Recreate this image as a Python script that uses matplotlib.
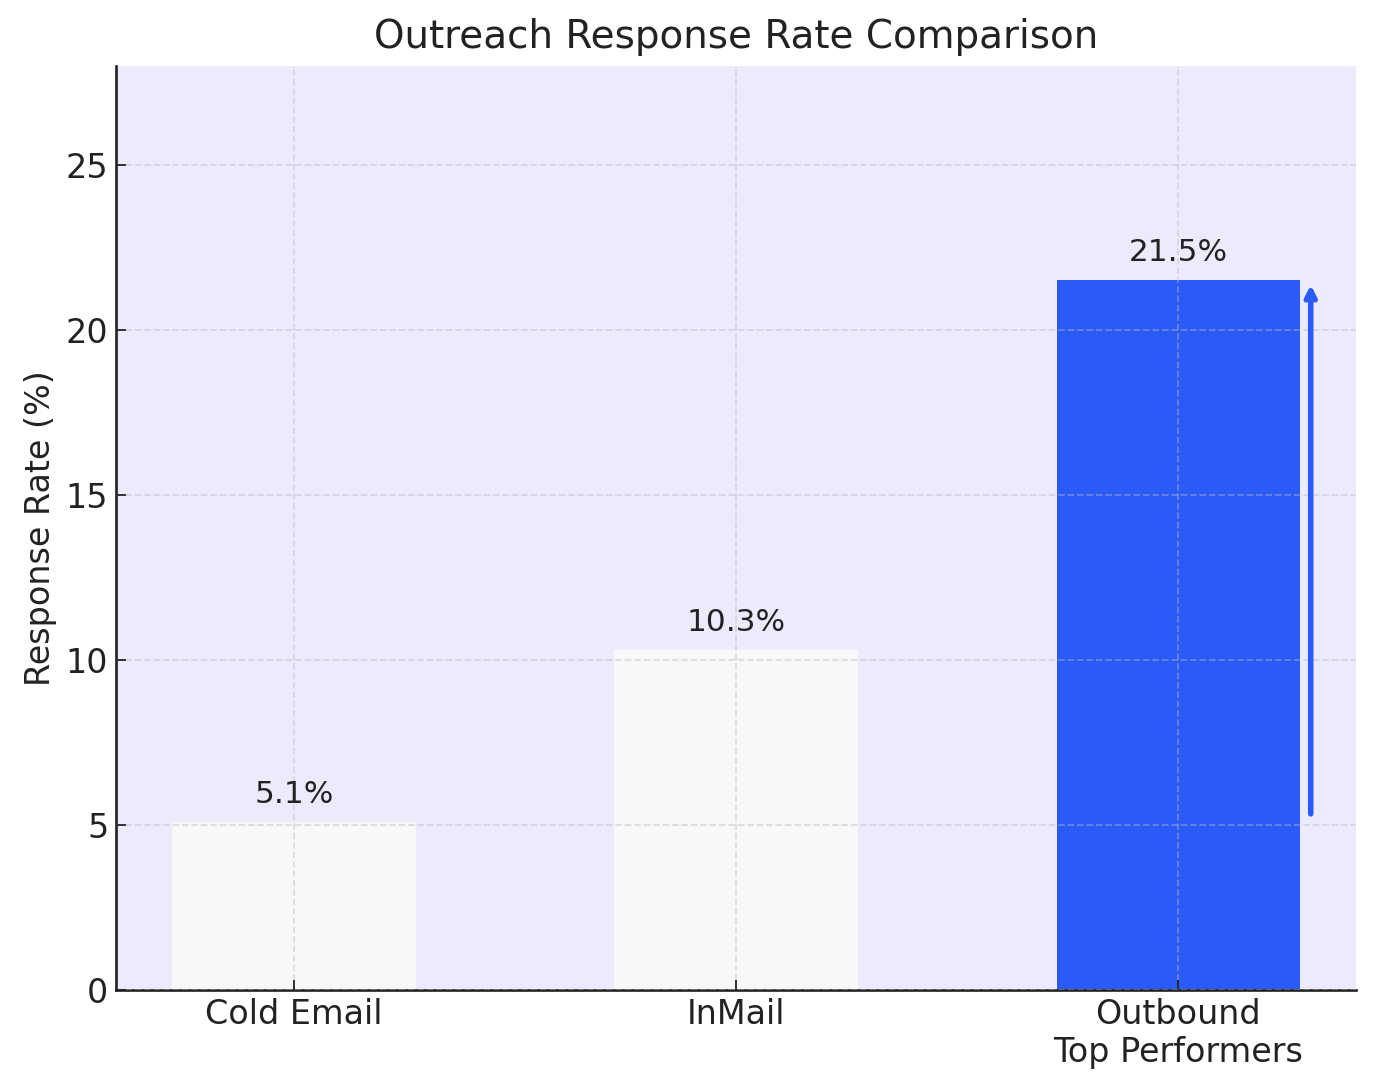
import matplotlib
matplotlib.use("Agg")
from matplotlib import pyplot as plt

channels = ["Cold Email", "InMail", "Outbound\nTop Performers"]
rates = [5.1, 10.3, 21.5]
bar_colors = ["#f8f8f8", "#f8f8f8", "#2a5bf8"]

fig, ax = plt.subplots(figsize=(8.6, 6.82), dpi=160)
fig.subplots_adjust(left=0.0843, right=0.9855, top=0.9395, bottom=0.0926)
ax.set_facecolor("#ecebfd")

bars = ax.bar(channels, rates, width=0.55, color=bar_colors)

for bar, rate in zip(bars, rates):
    ax.text(bar.get_x() + bar.get_width() / 2, rate + 0.4, f"{rate}%",
            ha="center", va="bottom", fontsize=14, color="#222222")

# arrow next to the top bar
ax.annotate("", xy=(2.3, rates[2]), xytext=(2.3, 5.2),
            arrowprops=dict(arrowstyle="->", color="#2a5bf8", lw=2.5))

ax.set_ylim(0, 28)
ax.set_title("Outreach Response Rate Comparison", fontsize=17.5, color="#222222", pad=8)
ax.set_ylabel("Response Rate (%)", fontsize=15, color="#222222")
ax.tick_params(labelsize=15, colors="#222222", direction="in", length=4.5)
ax.grid(True, linestyle="--", color="#b8b8c0", alpha=0.45, linewidth=0.8)
ax.set_axisbelow(False)

for side in ["top", "right"]:
    ax.spines[side].set_visible(False)
for side in ["left", "bottom"]:
    ax.spines[side].set_linewidth(1.2)
    ax.spines[side].set_color("#222222")

plt.savefig("out.png")
